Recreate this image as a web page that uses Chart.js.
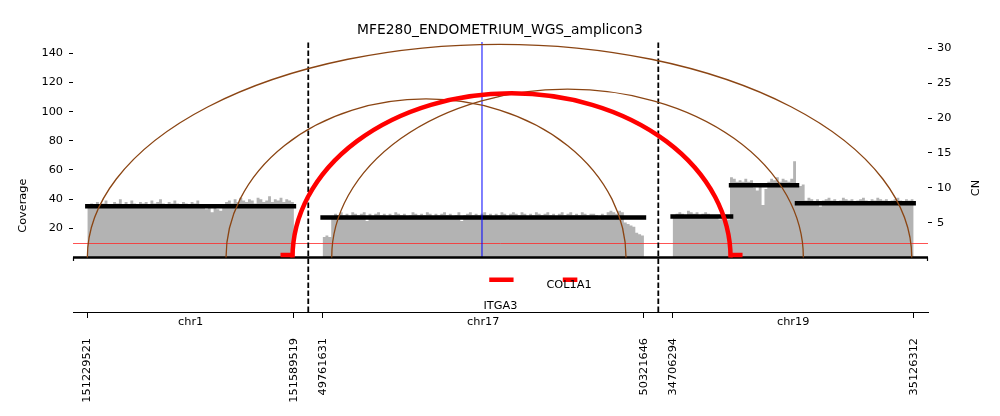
<!DOCTYPE html>
<html>
<head>
<meta charset="utf-8">
<script src="https://cdn.jsdelivr.net/npm/chart.js@4.4.1/dist/chart.umd.min.js"></script>
<style>
  html, body { margin: 0; padding: 0; background: #fff; }
  #wrap { width: 1000px; height: 416px; }
</style>
</head>
<body>
<div id="wrap"><canvas id="ampliconChart"></canvas></div>
<script>
// Amplicon view: coverage, copy number segments, breakpoint arcs and genes.

const chartTitle = 'MFE280_ENDOMETRIUM_WGS_amplicon3';

// genomic intervals, drawn side by side
const segChrom = ['chr1', 'chr17', 'chr19'];
const segStart = [151229521, 49761631, 34706294];
const segEnd   = [151589519, 50321646, 35126312];

// read depth in 5 kb bins
const binSize = 5000;
const covChr1 = [
  35, 37, 36, 38, 36, 37, 39, 36, 34, 38,
  37, 40, 35, 38, 36, 39, 37, 34, 38, 37,
  38, 36, 39, 37, 38, 40, 37, 36, 38, 37,
  39, 37, 36, 38, 37, 36, 38, 37, 39, 36,
  34, 33, 35, 31, 34, 33, 32, 35,
  38, 39, 37, 40, 38, 41, 39, 38, 40, 39, 37, 41,
  40, 38, 39, 42, 38, 40, 39, 41, 38, 40, 39, 38
];
const covChr17 = [
  14, 15, 14, 28,
  30, 29, 31, 29, 30, 28, 31, 30, 29, 30,
  31, 25, 30, 28, 30, 31, 29, 30, 28, 30,
  29, 31, 30, 29, 30, 28, 29, 31, 30, 29,
  30, 29, 31, 30, 28, 30, 29, 30, 31, 29,
  30, 28, 29, 31, 25, 29, 30, 31, 29, 30,
  29, 30, 31, 29, 30, 28, 30, 29, 31, 30,
  26, 30, 31, 30, 29, 31, 30, 28, 30, 29,
  31, 30, 29, 30, 31, 29, 30, 28, 30, 31,
  29, 30, 31, 29, 30, 29, 31, 30, 29, 30,
  30, 29, 26, 30, 29, 31, 32, 31, 30, 32,
  31,
  24, 23, 22, 21, 17, 16, 15
];
const covChr19 = [
  29, 30, 31, 30, 29, 32, 31, 30, 31, 29,
  30, 31, 30, 29, 28, 27, 26, 27, 25, 26,
  55, 54, 52, 53, 52, 54, 52, 53, 48, 46,
  49, 36, 47, 52, 54, 53, 55, 52, 54, 53,
  52, 54, 66, 51, 49, 50,
  39, 41, 40, 38, 40, 35, 39, 40, 41, 39,
  40, 38, 39, 41, 40, 39, 40, 38, 39, 40,
  41, 39, 38, 40, 39, 41, 40, 39, 40, 38,
  39, 40, 41, 39, 38, 40, 39, 40
];

// copy number segments
const cnChrom = ['chr1', 'chr17', 'chr19', 'chr19', 'chr19'];
const cnStart = [151229521, 49761631, 34706294, 34808100, 34923000];
const cnEnd   = [151589519, 50321646, 34808100, 34923000, 35126312];
const cnValue = [7.35, 5.72, 5.87, 10.36, 7.78];
const cnReference = 2;

// breakpoint edges (arc top in coverage units)
const svFromChrom = ['chr1', 'chr1', 'chr17', 'chr1'];
const svFromPos   = [151229521, 151471200, 49777500, 151587100];
const svToChrom   = ['chr19', 'chr17', 'chr19', 'chr19'];
const svToPos     = [35123000, 50290400, 34934100, 34807200];
const svHeight    = [146.2, 108.7, 115.4, 112.6];
const svHighlight = [false, false, false, true];

// genes
const geneName  = ['ITGA3', 'COL1A1'];
const geneChrom = ['chr17', 'chr17'];
const geneStart = [50055968, 50184101];
const geneEnd   = [50090481, 50201632];

// marker line
const markerChrom = 'chr17';
const markerPos = 50039400;

const covTicks = [20, 40, 60, 80, 100, 120, 140];
const cnTicks = [5, 10, 15, 20, 25, 30];

// ---- layout helpers ----
const MARGIN = 25000, GAP = 50000;
const segOffset = [];
let acc = 0;
segStart.forEach((s, i) => { segOffset.push(acc); acc += segEnd[i] - s + GAP; });
const xMin = -MARGIN;
const xMax = acc - GAP + MARGIN;
const COV_MIN = -37.4, COV_MAX = 147.8;
const CN_MIN = -7.82, CN_MAX = 30.92;
const GENE_Y = -15.2;

function toAxis(chrom, pos) {
  const i = segChrom.indexOf(chrom);
  return segOffset[i] + pos - segStart[i];
}

const boundaryTicks = [], boundaryLabels = [];
segChrom.forEach((c, i) => {
  boundaryTicks.push(toAxis(c, segStart[i]), toAxis(c, segEnd[i]));
  boundaryLabels.push(String(segStart[i]), String(segEnd[i]));
});
const chrMids = segChrom.map((c, i) => (toAxis(c, segStart[i]) + toAxis(c, segEnd[i])) / 2);
const gapCenters = segOffset.slice(1).map(o => o - GAP / 2);

function coveragePoints(i, values) {
  const pts = values.map((v, k) => ({ x: toAxis(segChrom[i], segStart[i] + k * binSize), y: v }));
  pts.push({ x: toAxis(segChrom[i], segEnd[i]), y: values[values.length - 1] });
  return pts;
}

function brokenSegments(chroms, starts, ends, yval) {
  const pts = [];
  chroms.forEach((c, i) => {
    const y = Array.isArray(yval) ? yval[i] : yval;
    pts.push({ x: toAxis(c, starts[i]), y }, { x: toAxis(c, ends[i]), y }, { x: toAxis(c, ends[i]), y: null });
  });
  return pts;
}

const FONT = 'DejaVu Sans';
const SMALL = 11.3;

const datasets = [];
[covChr1, covChr17, covChr19].forEach((vals, i) => {
  datasets.push({
    data: coveragePoints(i, vals), stepped: true, fill: 'origin',
    backgroundColor: '#b3b3b3', borderWidth: 0, pointRadius: 0,
    yAxisID: 'y', order: 20
  });
});
datasets.push({
  data: brokenSegments(cnChrom, cnStart, cnEnd, cnValue),
  borderColor: '#000', borderWidth: 4.5, borderCapStyle: 'square', pointRadius: 0,
  yAxisID: 'yCN', order: 12
});
datasets.push({
  data: [{ x: toAxis(markerChrom, markerPos), y: 0 }, { x: toAxis(markerChrom, markerPos), y: COV_MAX }],
  borderColor: '#0000ff', borderWidth: 1, pointRadius: 0, yAxisID: 'y', order: 11
});
datasets.push({
  data: [{ x: xMin, y: 0 }, { x: xMax, y: 0 }],
  borderColor: '#000', borderWidth: 2.6, pointRadius: 0, yAxisID: 'y', order: 10
});
gapCenters.forEach(g => {
  datasets.push({
    data: [{ x: g, y: COV_MIN }, { x: g, y: COV_MAX }],
    borderColor: '#000', borderWidth: 1.8, borderDash: [5.5, 2.5], pointRadius: 0,
    yAxisID: 'y', order: 9
  });
});
datasets.push({
  data: brokenSegments(geneChrom, geneStart, geneEnd, GENE_Y),
  borderColor: '#ff0000', borderWidth: 4.5, borderCapStyle: 'square', pointRadius: 0,
  yAxisID: 'y', order: 8
});

// CN reference line, drawn over the coverage but under the segments
const cnReferenceLine = {
  id: 'cnReferenceLine',
  beforeDatasetDraw(chart, args) {
    if (args.index !== 3) return;
    const { ctx, chartArea } = chart;
    const py = Math.floor(chart.scales.yCN.getPixelForValue(cnReference)) + 0.5;
    ctx.save();
    ctx.strokeStyle = 'rgba(255,40,40,0.8)';
    ctx.lineWidth = 1;
    ctx.beginPath();
    ctx.moveTo(chartArea.left, py);
    ctx.lineTo(chartArea.right, py);
    ctx.stroke();
    ctx.restore();
  }
};

const overlay = {
  id: 'ampliconOverlay',
  afterDatasetsDraw(chart) {
    const { ctx, chartArea } = chart;
    const xs = chart.scales.x, ys = chart.scales.y;
    const y0 = ys.getPixelForValue(0);
    ctx.save();
    // baseline end ticks
    ctx.strokeStyle = '#000';
    ctx.lineWidth = 1.2;
    [chartArea.left + 0.5, chartArea.right - 0.5].forEach(px => {
      ctx.beginPath(); ctx.moveTo(px, y0); ctx.lineTo(px, y0 + 3.5); ctx.stroke();
    });
    // breakpoint arcs
    svFromPos.forEach((p, i) => {
      const x1 = xs.getPixelForValue(toAxis(svFromChrom[i], p));
      const x2 = xs.getPixelForValue(toAxis(svToChrom[i], svToPos[i]));
      const yTop = ys.getPixelForValue(svHeight[i]);
      const hi = svHighlight[i];
      ctx.beginPath();
      ctx.ellipse((x1 + x2) / 2, y0, Math.abs(x2 - x1) / 2, y0 - yTop, 0, Math.PI, 2 * Math.PI);
      ctx.lineWidth = hi ? 4.5 : 1.3;
      ctx.strokeStyle = hi ? '#ff0000' : '#8b4513';
      ctx.stroke();
      if (hi) {
        ctx.beginPath();
        ctx.moveTo(Math.min(x1, x2) - 12, y0 - 2.5); ctx.lineTo(Math.min(x1, x2), y0 - 2.5);
        ctx.moveTo(Math.max(x1, x2), y0 - 2.5); ctx.lineTo(Math.max(x1, x2) + 12, y0 - 2.5);
        ctx.stroke();
      }
    });
    ctx.fillStyle = '#000';
    ctx.font = SMALL + 'px "' + FONT + '"';
    ctx.textAlign = 'center';
    ctx.textBaseline = 'middle';
    // chromosome names under the axis
    chrMids.forEach((m, i) => {
      ctx.fillText(segChrom[i], xs.getPixelForValue(m), chartArea.bottom + 10.5);
    });
    // gene labels
    const labelDy = [26, 5];
    geneName.forEach((g, i) => {
      const xc = xs.getPixelForValue((toAxis(geneChrom[i], geneStart[i]) + toAxis(geneChrom[i], geneEnd[i])) / 2);
      ctx.fillText(g, xc - 1, ys.getPixelForValue(GENE_Y) + labelDy[i]);
    });
    // axis titles (both read bottom to top)
    ctx.textBaseline = 'alphabetic';
    ctx.save();
    ctx.translate(25.7, 205.7); ctx.rotate(-Math.PI / 2);
    ctx.fillText('Coverage', 0, 0);
    ctx.restore();
    ctx.save();
    ctx.translate(979.3, 188); ctx.rotate(-Math.PI / 2);
    ctx.fillText('CN', 0, 0);
    ctx.restore();
    ctx.restore();
  }
};

const tickFont = { family: FONT, size: SMALL };

new Chart(document.getElementById('ampliconChart'), {
  type: 'line',
  data: { datasets },
  options: {
    responsive: true,
    maintainAspectRatio: false,
    animation: false,
    layout: { padding: 0 },
    plugins: {
      legend: { display: false },
      tooltip: { enabled: false },
      title: {
        display: true, text: chartTitle, color: '#000',
        font: { family: FONT, size: 13.8, weight: 'normal' },
        padding: { top: 22, bottom: 3.4 }
      }
    },
    scales: {
      x: {
        type: 'linear', position: 'bottom', min: xMin, max: xMax,
        afterBuildTicks: s => { s.ticks = boundaryTicks.map(v => ({ value: v })); },
        afterFit: s => { s.height = 104; },
        grid: { drawOnChartArea: false, drawTicks: true, tickLength: 6, color: '#000' },
        border: { display: true, color: '#000', width: 1 },
        ticks: {
          autoSkip: false, minRotation: 90, maxRotation: 90, padding: 20, color: '#000', font: tickFont,
          callback: (v, i) => boundaryLabels[i]
        }
      },
      y: {
        type: 'linear', position: 'left', min: COV_MIN, max: COV_MAX,
        afterBuildTicks: s => { s.ticks = covTicks.map(v => ({ value: v })); },
        afterFit: s => { s.width = 73; },
        grid: { drawOnChartArea: false, drawTicks: true, tickLength: 4, color: '#000' },
        border: { display: false },
        ticks: { padding: 6, color: '#000', font: tickFont }
      },
      yCN: {
        type: 'linear', position: 'right', min: CN_MIN, max: CN_MAX,
        afterBuildTicks: s => { s.ticks = cnTicks.map(v => ({ value: v })); },
        afterFit: s => { s.width = 72; },
        grid: { drawOnChartArea: false, drawTicks: true, tickLength: 4, color: '#000' },
        border: { display: false },
        ticks: { padding: 5, color: '#000', font: tickFont }
      }
    }
  },
  plugins: [cnReferenceLine, overlay]
});
</script>
</body>
</html>
